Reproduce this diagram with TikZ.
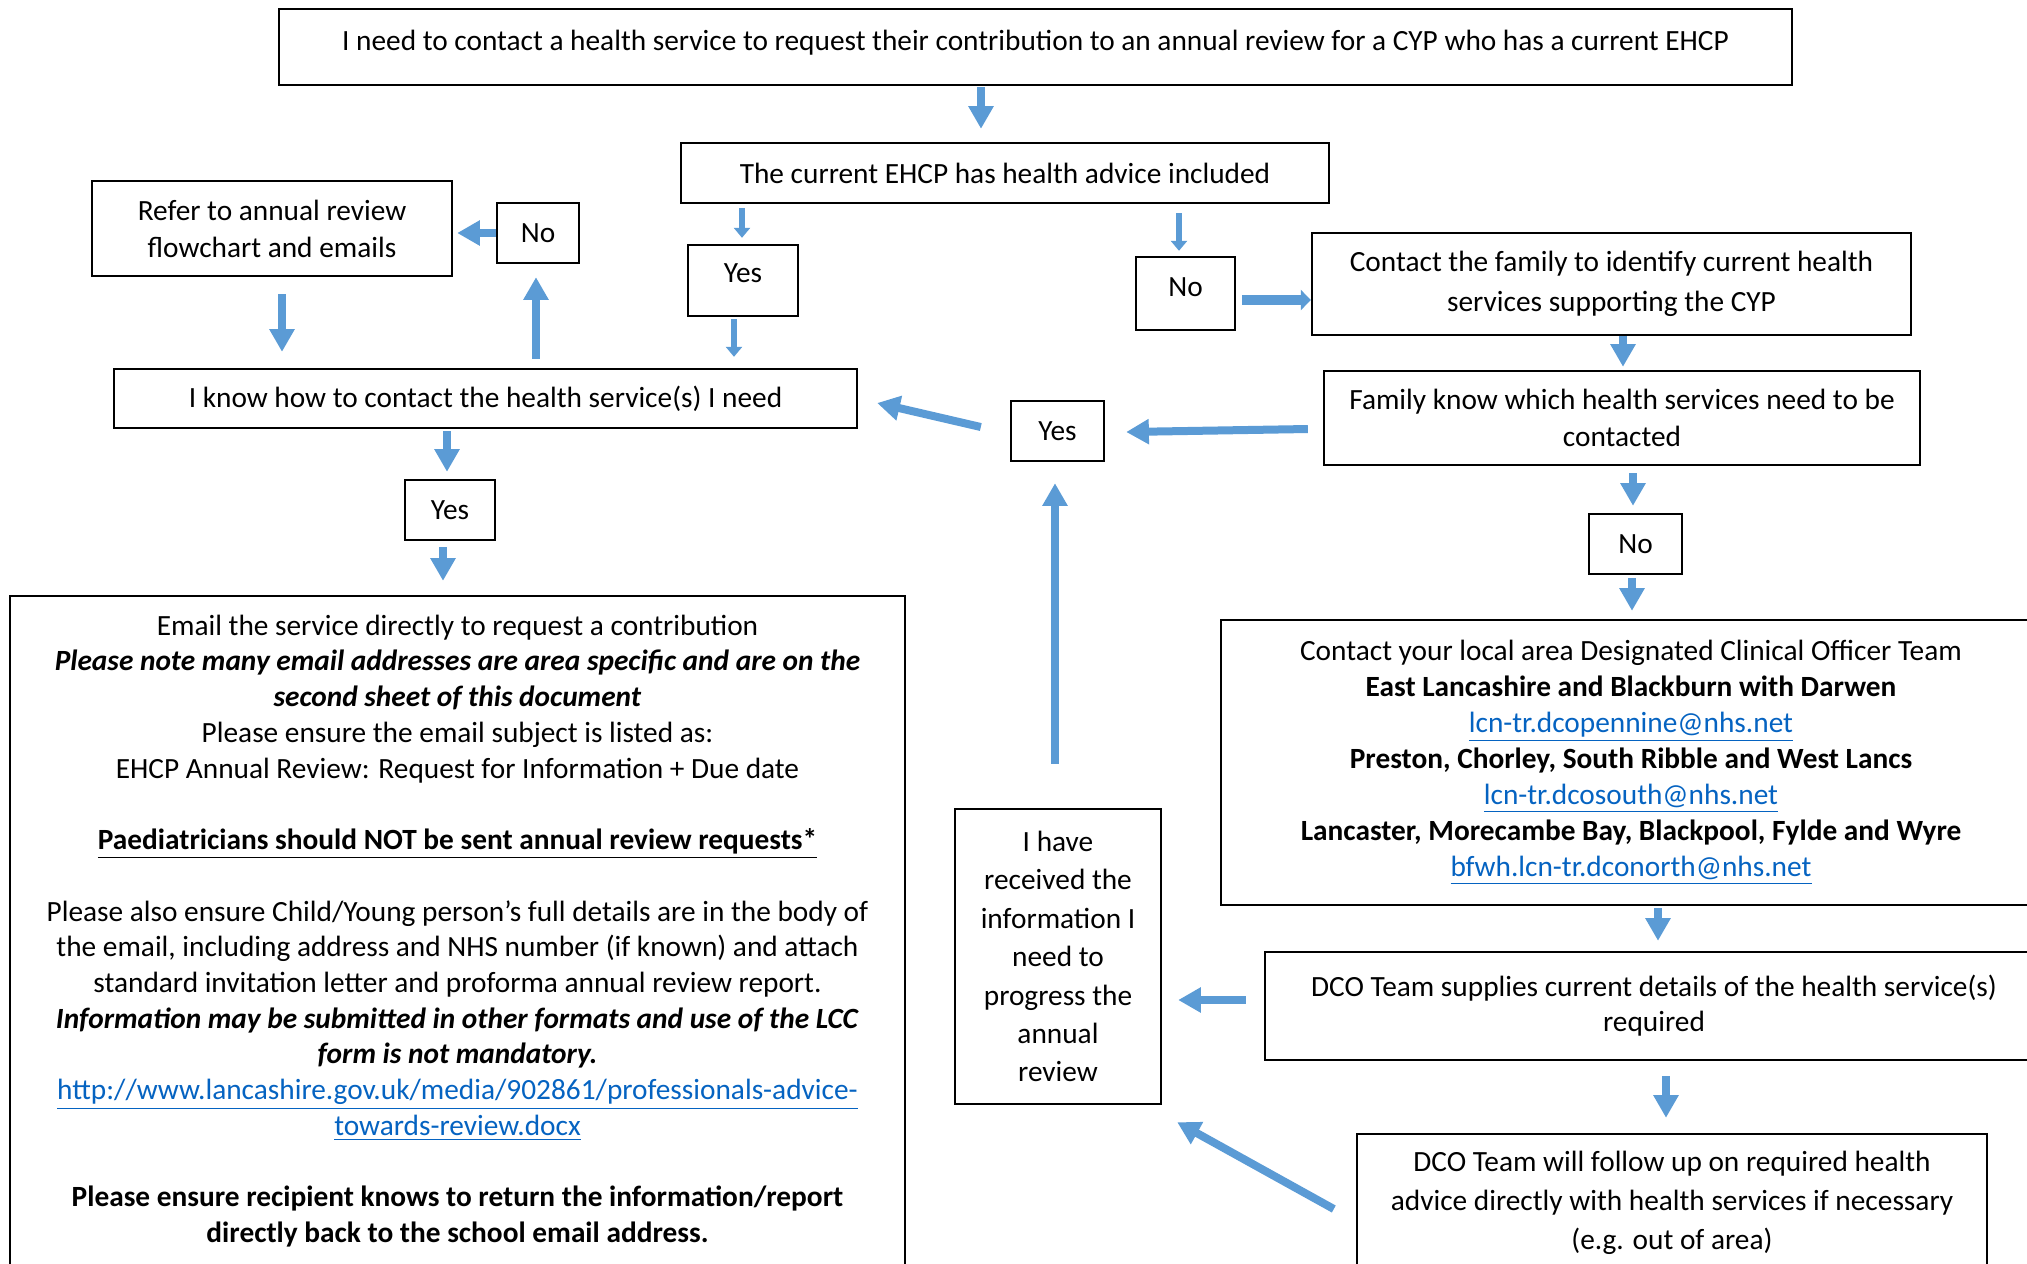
\documentclass[tikz,border=0pt]{standalone}
\usepackage{fontspec}
\setmainfont{Carlito}
\usetikzlibrary{arrows.meta,calc}
\definecolor{arrowblue}{HTML}{5B9BD5}
\definecolor{linkblue}{HTML}{0563C1}
\newcommand{\maillink}[1]{\textcolor{linkblue}{\underline{#1}}}
\newcommand{\bi}[1]{\textbf{\textit{#1}}}
\tikzset{
  box/.style={draw, line width=0.9pt, inner sep=0pt, align=center,
    font=\fontsize{11}{13.9}\selectfont},
  boxsize/.style 2 args={minimum width=#1*0.375pt, minimum height=#2*0.375pt},
  arr/.style={draw=arrowblue, line width=3pt, -{Triangle[width=9pt,length=8.5pt]}},
  thinarr/.style={arr, line width=2.25pt, -{Triangle[width=6pt,length=3.75pt]}},
  widearr/.style={arr, line width=3.75pt, -{Triangle[width=7.5pt,length=3.75pt]}},
}
\begin{document}
\begin{tikzpicture}[x=0.375pt, y=-0.375pt]
  \useasboundingbox (0,0) rectangle (2027,1263);
  \clip (0,0) rectangle (2027,1263);
  % boxes, centres and sizes in pixels
  \node[box, boxsize={1513}{76}, text depth=4.7pt] (top) at (1035.5,47)
    {I need to contact a health service to request their contribution to an annual review for a CYP who has a current EHCP};
  \node[box, boxsize={648}{60}] (ehcp) at (1005,173) {The current EHCP has health advice included};
  \node[box, boxsize={360}{95}] (refer) at (272,228.5) {Refer to annual review\\flowchart and emails};
  \node[box, boxsize={82}{60}] (noA) at (538,233) {No};
  \node[box, boxsize={110}{71}, text depth=5.4pt] (yesA) at (743,280.5) {Yes};
  \node[box, boxsize={743}{59}] (know) at (485.5,398.5) {I know how to contact the health service(s) I need};
  \node[box, boxsize={99}{73}, text depth=4.5pt] (noB) at (1185.5,293.5) {No};
  \node[box, boxsize={599}{102}, font=\fontsize{11}{15}\selectfont] (fam1) at (1611.5,284)
    {Contact the family to identify current health\\services supporting the CYP};
  \node[box, boxsize={596}{94}] (fam2) at (1622,418)
    {Family know which health services need to be\\contacted};
  \node[box, boxsize={93}{60}] (yesB) at (1057.5,431) {Yes};
  \node[box, boxsize={90}{60}] (yesC) at (450,510) {Yes};
  \node[box, boxsize={93}{60}] (noC) at (1635.5,544) {No};
  \node[box, boxsize={895}{670}, font=\fontsize{11}{13.4}\selectfont] (email) at (457.5,931)
    {Email the service directly to request a contribution\\
     \bi{Please note many email addresses are area specific and are on the}\\
     \bi{second sheet of this document}\\
     Please ensure the email subject is listed as:\\
     EHCP Annual Review: Request for Information + Due date\\[13.4pt]
     \underline{\textbf{Paediatricians should NOT be sent annual review requests*}}\\[13.4pt]
     Please also ensure Child/Young person’s full details are in the body of\\
     the email, including address and NHS number (if known) and attach\\
     standard invitation letter and proforma annual review report.\\
     \bi{Information may be submitted in other formats and use of the LCC}\\
     \bi{form is not mandatory.}\\
     \maillink{http://www.lancashire.gov.uk/media/902861/professionals-advice-}\\
     \maillink{towards-review.docx}\\[13.4pt]
     \textbf{Please ensure recipient knows to return the information/report}\\
     \textbf{directly back to the school email address.}};
  \node[box, boxsize={820}{285}, font=\fontsize{11}{13.5}\selectfont] (dco) at (1631,762.5)
    {Contact your local area Designated Clinical Officer Team\\
     \textbf{East Lancashire and Blackburn with Darwen}\\
     \maillink{lcn-tr.dcopennine@nhs.net}\\
     \textbf{Preston, Chorley, South Ribble and West Lancs}\\
     \maillink{lcn-tr.dcosouth@nhs.net}\\
     \textbf{Lancaster, Morecambe Bay, Blackpool, Fylde and Wyre}\\
     \maillink{bfwh.lcn-tr.dconorth@nhs.net}};
  \node[box, boxsize={778}{108}, font=\fontsize{11}{13.1}\selectfont] (supp) at (1654,1006)
    {DCO Team supplies current details of the health service(s)\\required};
  \node[box, boxsize={206}{295}, font=\fontsize{11}{14.4}\selectfont] (ihave) at (1058,956.5)
    {I have\\received the\\information I\\need to\\progress the\\annual\\review};
  \node[box, boxsize={630}{138}, font=\fontsize{11}{14.6}\selectfont] (follow) at (1672,1203)
    {DCO Team will follow up on required health\\advice directly with health services if necessary\\(e.g. out of area)};
  % arrows
  \draw[arr] ($(top.south)+(-54.5,1)$) -- ($(ehcp.north)+(-24,-13)$);
  \draw[thinarr] ($(ehcp.south)+(-263,4)$) -- ($(yesA.north)+(-1,-6)$);
  \draw[thinarr] ($(ehcp.south)+(174,9)$) -- ($(noB.north)+(-6.5,-5)$);
  \draw[arr] (noA.west) -- ($(refer.east)+(4,4.5)$);
  \draw[thinarr] ($(yesA.south)+(-9,2)$) -- ($(know.north)+(248.5,-11)$);
  \draw[arr] ($(refer.south)+(10,17)$) -- ($(know.north)+(-203.5,-16)$);
  \draw[arr] ($(know.north)+(50.5,-9)$) -- ($(noA.south)+(-2,13)$);
  \draw[arr] ($(yesB.west)+(-29,-4)$) -- ($(know.east)+(19,4.5)$);
  \draw[widearr] ($(noB.east)+(6,6.5)$) -- ($(fam1.west)+(0,16)$);
  \draw[arr] ($(fam1.south)+(11.5,0)$) -- ($(fam2.north)+(1,-3)$);
  \draw[arr] ($(fam2.west)+(-15,11)$) -- ($(yesB.east)+(21,1)$);
  \draw[arr] ($(know.south)+(-38.5,2)$) -- ($(yesC.north)+(-3,-7)$);
  \draw[arr] ($(yesC.south)+(-7,6)$) -- ($(email.north)+(-14.5,-14)$);
  \draw[arr] ($(fam2.south)+(11,7)$) -- ($(noC.north)+(-2.5,-7)$);
  \draw[arr] ($(noC.south)+(-3.5,3)$) -- ($(dco.north)+(1,-8)$);
  \draw[arr] ($(dco.south)+(27,2)$) -- ($(supp.north)+(4,-10)$);
  \draw[arr] ($(supp.west)+(-18,-6)$) -- ($(ihave.east)+(16,43.5)$);
  \draw[arr] ($(ihave.north)+(-3,-44)$) -- ($(yesB.south)+(-2.5,21)$);
  \draw[arr] ($(supp.south)+(12,15)$) -- ($(follow.north)+(-6,-15)$);
  \draw[arr] ($(follow.west)+(-22,6)$) -- ($(ihave.south east)+(15,17)$);
\end{tikzpicture}
\end{document}
